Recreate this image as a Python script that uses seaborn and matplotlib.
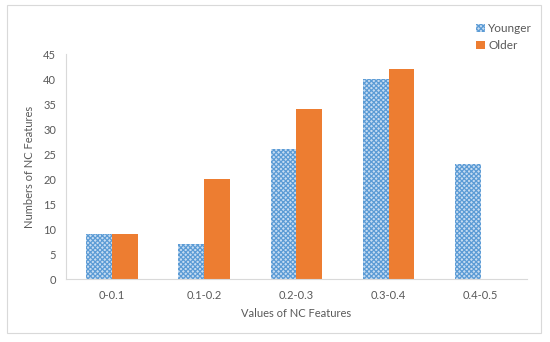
import numpy as np
import pandas as pd
import matplotlib
matplotlib.use('Agg')
import matplotlib.pyplot as plt
import seaborn as sns
from matplotlib.patches import Rectangle

# Data
categories = ['0-0.1', '0.1-0.2', '0.2-0.3', '0.3-0.4', '0.4-0.5']
younger = [9, 7, 26, 40, 23]
older = [9, 20, 34, 42, 0]
groups = ['Younger', 'Older']

df = pd.DataFrame({
    'range': categories * 2,
    'count': younger + older,
    'group': ['Younger'] * len(categories) + ['Older'] * len(categories),
})

sns.set_theme(style='white')
plt.rcParams['font.family'] = ['Lato', 'DejaVu Sans']
plt.rcParams['hatch.linewidth'] = 0.9

text_gray = '#595959'
axis_gray = '#d9d9d9'
blue = '#5B9BD5'
blue_face = '#c6dcf2'
orange = '#ED7D31'

fig = plt.figure(figsize=(5.5, 3.42), dpi=100)
ax = fig.add_axes([0.12, 0.184, 0.838, 0.658])

sns.barplot(data=df, x='range', y='count', hue='group', hue_order=groups,
            order=categories, palette=[blue, orange], width=0.56, gap=0,
            ax=ax, legend=False, saturation=1)

# Younger bars get the dotted pattern of the original
n = len(categories)
for bar in ax.patches[:n]:
    bar.set_facecolor(blue_face)
    bar.set_edgecolor(blue)
    bar.set_hatch('xxxxxxx')
    bar.set_linewidth(0)
for bar in ax.patches[n:2 * n]:
    bar.set_linewidth(0)

ax.set_ylim(0, 45)
ax.set_xlim(-0.5, n - 0.5)
ax.set_yticks(np.arange(0, 46, 5))
ax.set_xlabel('Values of NC Features', fontsize=8, color=text_gray, labelpad=5)
ax.set_ylabel('Numbers of NC Features', fontsize=8, color=text_gray, labelpad=6)
ax.tick_params(axis='both', labelsize=8, colors=text_gray)
ax.tick_params(axis='y', length=3, width=0.6, color=axis_gray, pad=4)
ax.tick_params(axis='x', length=0, pad=8)

for side in ['top', 'right']:
    ax.spines[side].set_visible(False)
for side in ['left', 'bottom']:
    ax.spines[side].set_color(axis_gray)
    ax.spines[side].set_linewidth(0.8)

# legend at top right, outside the plot area
handles = [Rectangle((0, 0), 1, 1, facecolor=blue_face, edgecolor=blue, hatch='xxxxxxx', linewidth=0),
           Rectangle((0, 0), 1, 1, facecolor=orange, linewidth=0)]
fig.legend(handles, groups, loc='upper left', bbox_to_anchor=(0.847, 0.964),
           frameon=False, fontsize=8.5, handlelength=0.7, handleheight=0.7,
           handletextpad=0.3, labelspacing=0.55, labelcolor=text_gray)

# thin border around the figure
fig.patches.append(Rectangle((0.013, 0.026), 0.971, 0.959, transform=fig.transFigure,
                             fill=False, edgecolor=axis_gray, linewidth=0.8))

fig.savefig('out.png', dpi=100)
